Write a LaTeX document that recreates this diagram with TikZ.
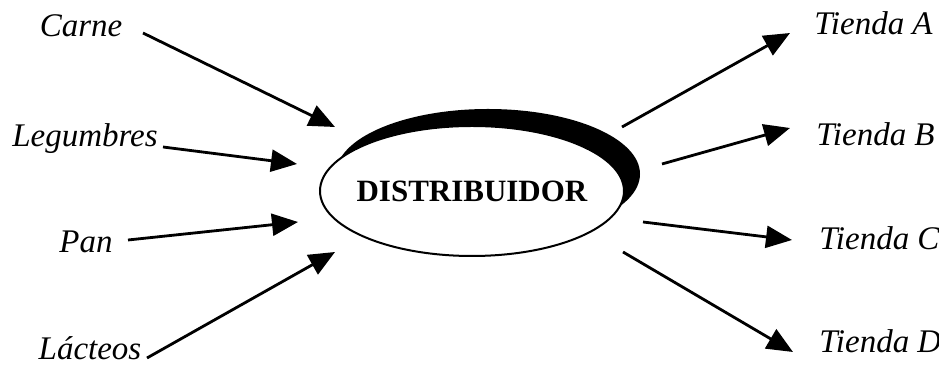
\documentclass[tikz,border=0pt]{standalone}
\usepackage{fontspec}
\setmainfont{Liberation Serif}
\usetikzlibrary{arrows.meta,shapes.geometric,shadows}

\tikzset{
  item/.style={font=\fontsize{16.5}{20}\selectfont\itshape, inner sep=0pt},
  hub/.style={ellipse, draw, line width=1pt, fill=white, inner xsep=-4.5pt, inner ysep=0pt,
    minimum width=152pt, minimum height=65pt,
    font=\fontsize{15.5}{18}\selectfont\bfseries,
    drop shadow={shadow xshift=8pt, shadow yshift=8.5pt, fill=black, opacity=1}},
  flow/.style={line width=1.4pt, -{Triangle[length=13pt, width=11pt]}}
}

\begin{document}
\begin{tikzpicture}[x=0.5pt, y=-0.5pt]
\useasboundingbox (0,0) rectangle (939,367);
% Central node
\node[hub] (dist) at (472,191) {DISTRIBUIDOR};
% Suppliers (left)
\node[item, anchor=base] (carne) at (81,37) {Carne};
\node[item, anchor=base] (legum) at (85,147) {Legumbres};
\node[item, anchor=base] (pan) at (86,253) {Pan};
\node[item, anchor=base] (lact) at (90,360) {Lácteos};
% Shops (right)
\node[item, anchor=base west] (tA) at (814,35) {Tienda A};
\node[item, anchor=base west] (tB) at (816,146) {Tienda B};
\node[item, anchor=base west] (tC) at (819,250) {Tienda C};
\node[item, anchor=base west] (tD) at (819,353) {Tienda D};
% Arrow ends
\coordinate (carne-o) at (143,33);  \coordinate (carne-i) at (335,127);
\coordinate (legum-o) at (163,147); \coordinate (legum-i) at (297,164);
\coordinate (pan-o) at (128,240);   \coordinate (pan-i) at (298,222);
\coordinate (lact-o) at (147,358);  \coordinate (lact-i) at (335,252);
\coordinate (tA-o) at (622,127);    \coordinate (tA-i) at (790,33);
\coordinate (tB-o) at (662,164);    \coordinate (tB-i) at (790,128);
\coordinate (tC-o) at (643,222);    \coordinate (tC-i) at (792,240);
\coordinate (tD-o) at (623,252);    \coordinate (tD-i) at (793,352);
% Flows in
\foreach \n in {carne,legum,pan,lact}
  \draw[flow] (\n-o) -- (\n-i);
% Flows out
\foreach \n in {tA,tB,tC,tD}
  \draw[flow] (\n-o) -- (\n-i);
\end{tikzpicture}
\end{document}
